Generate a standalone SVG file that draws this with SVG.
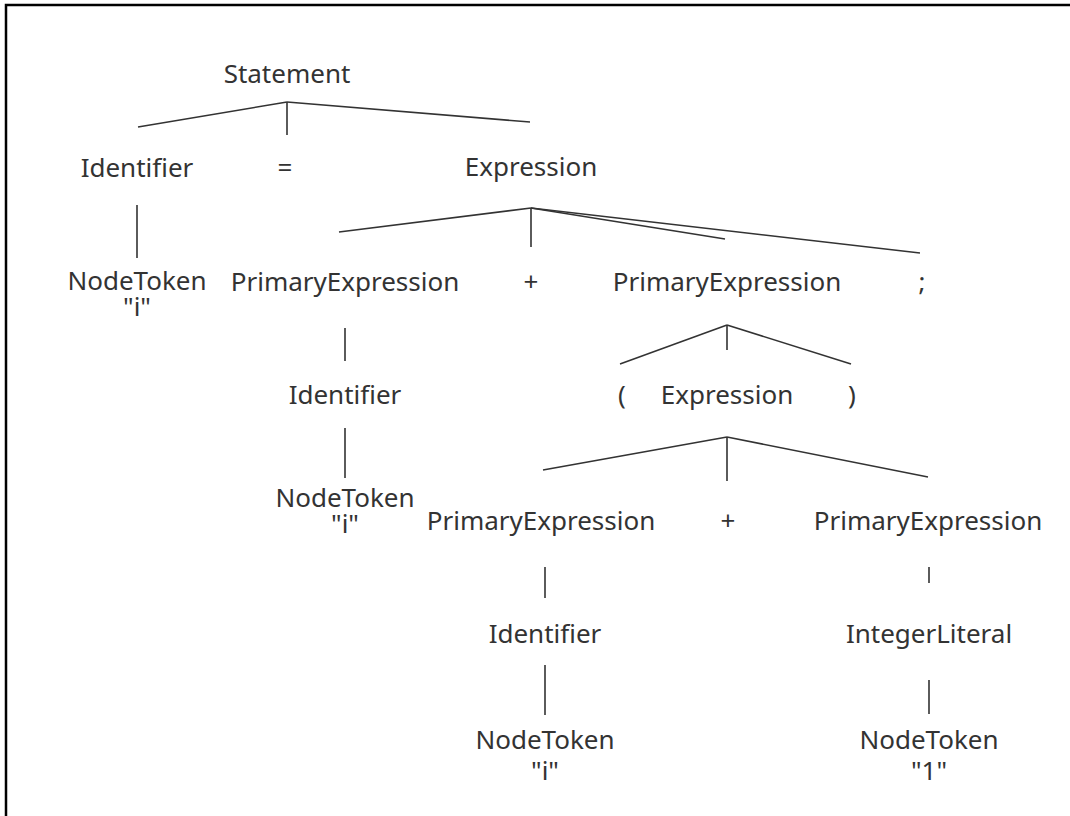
<svg xmlns="http://www.w3.org/2000/svg" width="1070" height="816" viewBox="0 0 1070 816">
<style>
text{font-family:"Noto Sans","Open Sans","DejaVu Sans",sans-serif;font-size:26px;fill:#333;text-anchor:middle}
.c line{stroke:#333;stroke-width:1.6}
</style>
<rect width="1070" height="816" fill="#fff"/>
<path d="M6,816 V5 H1070" fill="none" stroke="#000" stroke-width="2.5"/>
<g class="c" id="connectors">
<line x1="287" y1="102" x2="138" y2="127"/>
<line x1="287" y1="102" x2="287" y2="135"/>
<line x1="287" y1="102" x2="530" y2="122"/>
<line x1="137" y1="205" x2="137" y2="258"/>
<line x1="531" y1="208" x2="339" y2="232"/>
<line x1="531" y1="208" x2="531" y2="247"/>
<line x1="531" y1="208" x2="725" y2="239"/>
<line x1="531" y1="208" x2="920" y2="253"/>
<line x1="345" y1="328" x2="345" y2="361"/>
<line x1="345" y1="428" x2="345" y2="478"/>
<line x1="727" y1="325" x2="620" y2="364"/>
<line x1="727" y1="325" x2="727" y2="350"/>
<line x1="727" y1="325" x2="851" y2="364"/>
<line x1="727" y1="437" x2="543" y2="470"/>
<line x1="727" y1="437" x2="727" y2="481"/>
<line x1="727" y1="437" x2="928" y2="477"/>
<line x1="545" y1="567" x2="545" y2="598"/>
<line x1="929" y1="567" x2="929" y2="583"/>
<line x1="545" y1="665" x2="545" y2="715"/>
<line x1="929" y1="680" x2="929" y2="714"/>
</g>
<g id="statement"><text x="287" y="83">Statement</text></g>
<g id="identifier1"><text x="137" y="177">Identifier</text></g>
<g id="equals"><text x="285" y="177">=</text></g>
<g id="expression1"><text x="531" y="176">Expression</text></g>
<g id="nodetoken1"><text x="137" y="290">NodeToken</text><text x="137" y="316">"i"</text></g>
<g id="primary1"><text x="345" y="291">PrimaryExpression</text></g>
<g id="plus1"><text x="531" y="291">+</text></g>
<g id="primary2"><text x="727" y="291">PrimaryExpression</text></g>
<g id="semicolon"><text x="922" y="291">;</text></g>
<g id="identifier2"><text x="345" y="404">Identifier</text></g>
<g id="lparen"><text x="622" y="404">(</text></g>
<g id="expression2"><text x="727" y="404">Expression</text></g>
<g id="rparen"><text x="852" y="404">)</text></g>
<g id="nodetoken2"><text x="345" y="507">NodeToken</text><text x="345" y="533">"i"</text></g>
<g id="primary3"><text x="541" y="530">PrimaryExpression</text></g>
<g id="plus2"><text x="728" y="530">+</text></g>
<g id="primary4"><text x="928" y="530">PrimaryExpression</text></g>
<g id="identifier3"><text x="545" y="643">Identifier</text></g>
<g id="intliteral"><text x="929" y="643">IntegerLiteral</text></g>
<g id="nodetoken3"><text x="545" y="749">NodeToken</text><text x="545" y="780">"i"</text></g>
<g id="nodetoken4"><text x="929" y="749">NodeToken</text><text x="929" y="780">"1"</text></g>
</svg>
